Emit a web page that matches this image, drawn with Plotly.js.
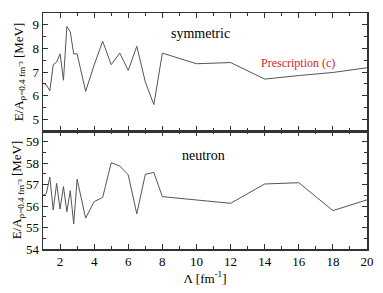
<!DOCTYPE html>
<html>
<head>
<meta charset="utf-8">
<script src="https://cdn.plot.ly/plotly-3.0.1.min.js"></script>
<style>html,body{margin:0;padding:0;background:#fff}#chart{width:383px;height:293px}</style>
</head>
<body>
<div id="chart"></div>
<script>
const lambdaVals = [1.0, 1.2, 1.4, 1.6, 1.8, 2.0, 2.2, 2.4, 2.6, 2.8, 3.0, 3.5, 4.0, 4.5, 5.0, 5.5, 6.0, 6.5, 7.0, 7.5, 8, 10, 12, 14, 16, 18, 20];
const symmetricE = [6.53, 6.45, 6.2, 7.31, 7.42, 7.77, 6.65, 8.93, 8.7, 7.77, 7.77, 6.18, 7.3, 8.3, 7.31, 7.8, 7.07, 8.09, 6.58, 5.62, 7.8, 7.35, 7.4, 6.7, 6.85, 6.98, 7.18];
const neutronE = [56.5, 56.6, 57.35, 55.82, 57.06, 55.86, 56.91, 55.74, 56.72, 55.17, 57.25, 55.44, 56.21, 56.4, 58.02, 57.87, 57.45, 55.64, 57.48, 57.57, 56.44, 56.28, 56.13, 57.03, 57.09, 55.79, 56.29];
const xTickVals = [2, 4, 6, 8, 10, 12, 14, 16, 18, 20];
const topTickVals = [5, 6, 7, 8, 9];
const bottomTickVals = [54, 55, 56, 57, 58, 59];
const labels = {top: 'symmetric', bottom: 'neutron', note: 'Prescription (c)'};

const serif = '"Liberation Serif", "Times New Roman", Times, serif';
const lineStyle = {color: '#555', width: 1};
const axisCommon = {
  showline: true, linecolor: '#333', linewidth: 1.5, mirror: 'ticks',
  ticks: 'inside', ticklen: 5, tickwidth: 1, tickcolor: '#333',
  showgrid: false, zeroline: false,
  tickfont: {family: serif, size: 13, color: '#000'}
};
const yTitle = 'E/A<sub>ρ=0.4 fm⁻³</sub> [MeV]';

const data = [
  {x: lambdaVals, y: neutronE, xaxis: 'x', yaxis: 'y', mode: 'lines', line: lineStyle, hoverinfo: 'skip'},
  {x: lambdaVals, y: symmetricE, xaxis: 'x2', yaxis: 'y2', mode: 'lines', line: lineStyle, hoverinfo: 'skip'}
];

const layout = {
  width: 383, height: 293,
  margin: {l: 43, r: 16, t: 13, b: 44},
  paper_bgcolor: '#fff', plot_bgcolor: '#fff',
  showlegend: false,
  font: {family: serif, color: '#000'},
  xaxis: Object.assign({}, axisCommon, {
    range: [1, 20], tickvals: xTickVals, anchor: 'y',
    minor: {dtick: 1, tick0: 0, ticks: 'inside', ticklen: 3, tickcolor: '#333'},
    title: {text: 'Λ [fm<sup>-1</sup>]', font: {family: serif, size: 13, color: '#000'}, standoff: 0}
  }),
  xaxis2: Object.assign({}, axisCommon, {
    range: [1, 20], tickvals: xTickVals, anchor: 'y2', matches: 'x', showticklabels: false,
    minor: {dtick: 1, tick0: 0, ticks: 'inside', ticklen: 3, tickcolor: '#333'}
  }),
  yaxis: Object.assign({}, axisCommon, {
    domain: [0, 0.5], range: [54, 59.5], tickvals: bottomTickVals, anchor: 'x',
    minor: {dtick: 0.5, tick0: 0, ticks: 'inside', ticklen: 3, tickcolor: '#333'},
    title: {text: yTitle, font: {family: serif, size: 13, color: '#000'}, standoff: 0}
  }),
  yaxis2: Object.assign({}, axisCommon, {
    domain: [0.5, 1], range: [4.5, 9.5], tickvals: topTickVals, anchor: 'x2',
    minor: {dtick: 0.5, tick0: 0, ticks: 'inside', ticklen: 3, tickcolor: '#333'},
    title: {text: yTitle, font: {family: serif, size: 13, color: '#000'}, standoff: 6}
  }),
  annotations: [
    {text: labels.top, xref: 'x2', yref: 'y2', x: 10.24, y: 8.65, showarrow: false, font: {family: serif, size: 14, color: '#000'}},
    {text: labels.note, xref: 'x2', yref: 'y2', x: 15.97, y: 7.38, showarrow: false, font: {family: serif, size: 12, color: '#d8232a'}},
    {text: labels.bottom, xref: 'x', yref: 'y', x: 10.4, y: 58.38, showarrow: false, font: {family: serif, size: 14, color: '#000'}}
  ]
};

Plotly.newPlot('chart', data, layout, {staticPlot: true, displayModeBar: false});
</script>
</body>
</html>
